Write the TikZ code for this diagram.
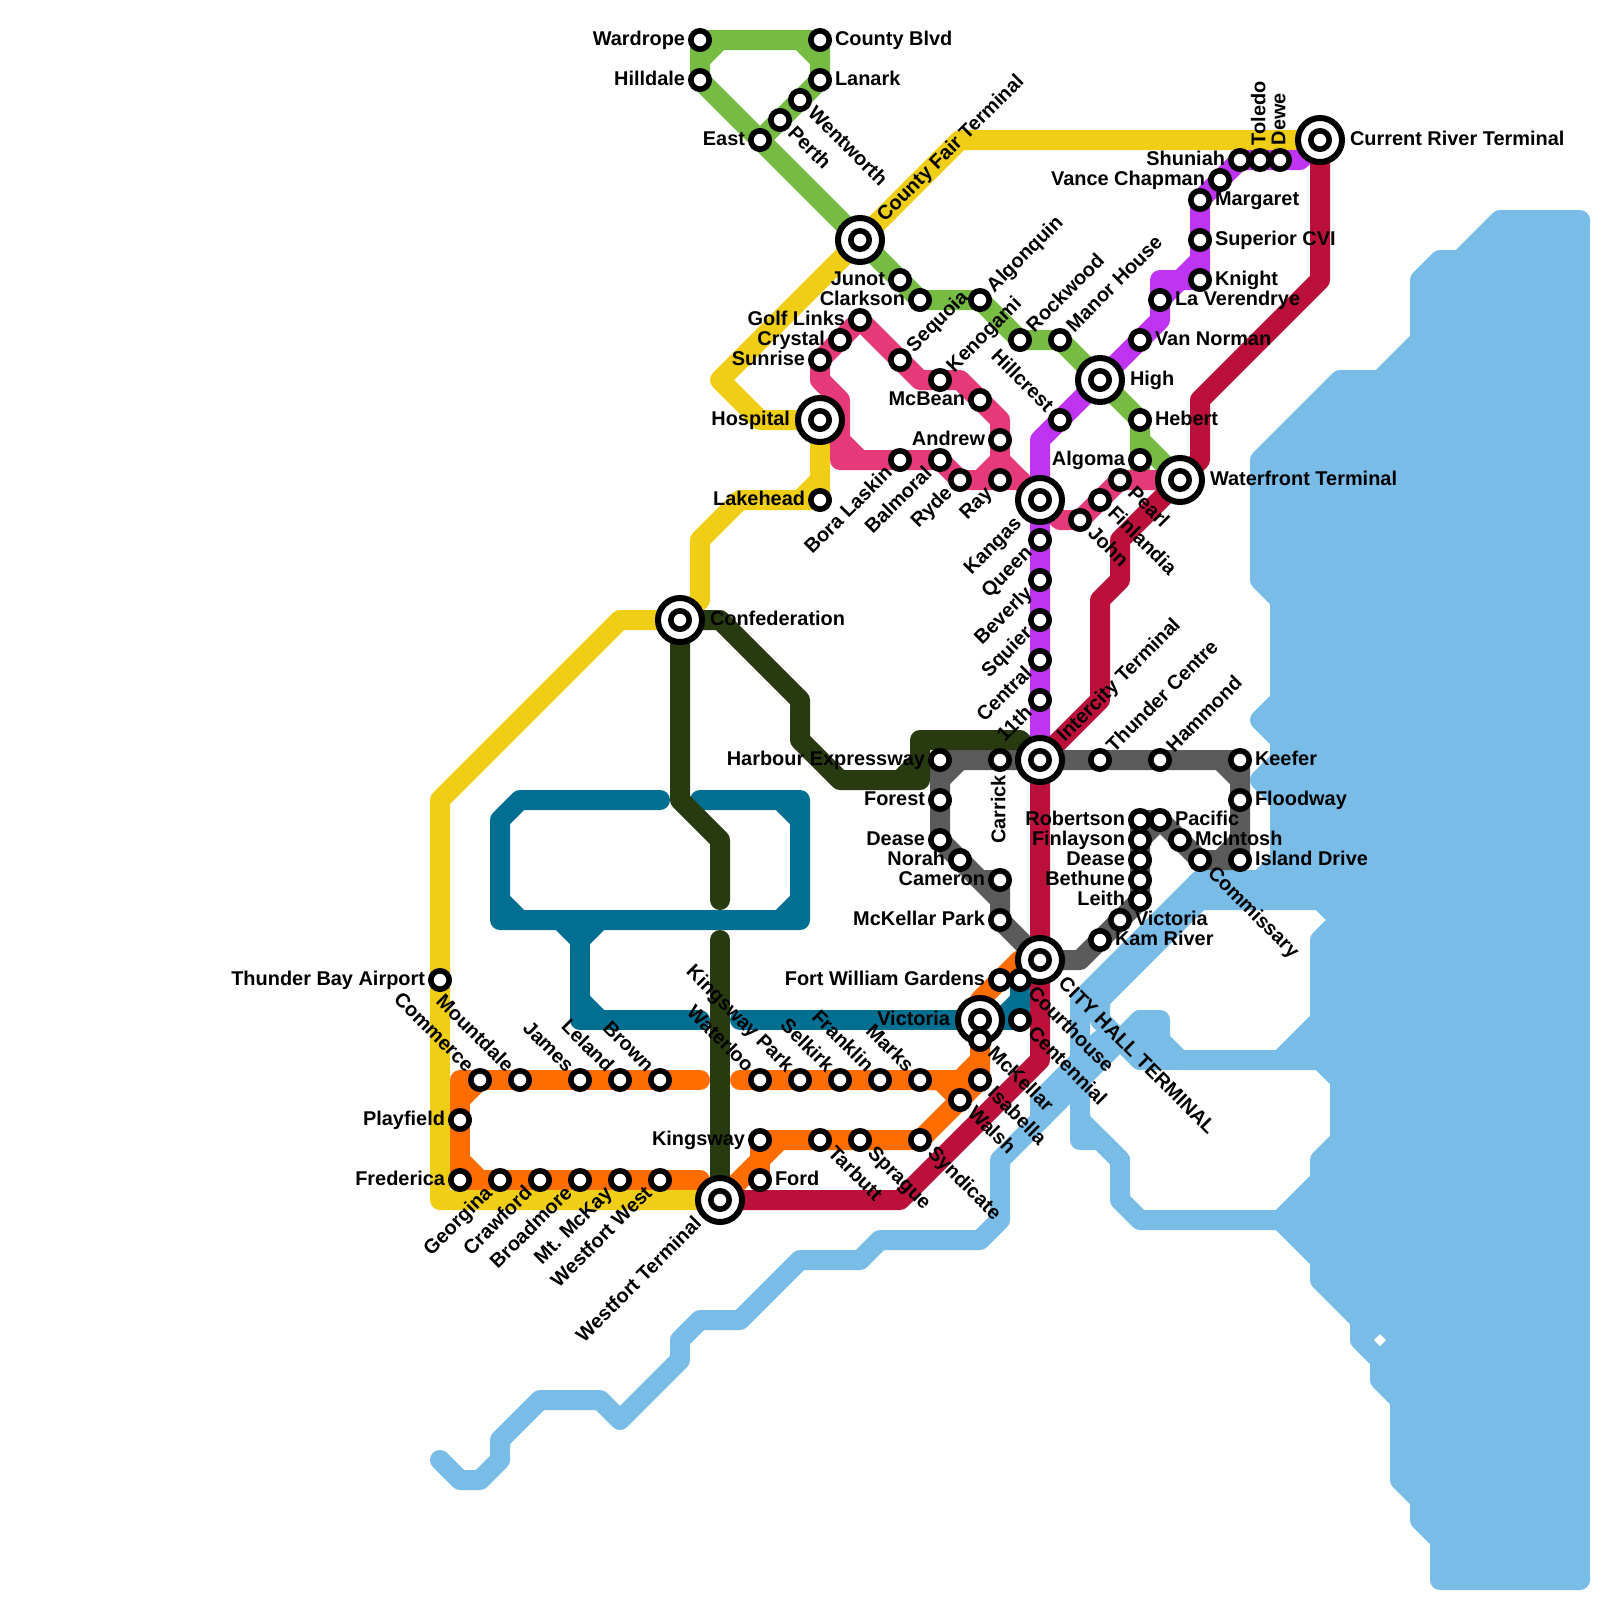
\documentclass[tikz,border=0pt]{standalone}
\usepackage{fontspec}
\setmainfont{Liberation Sans}
\definecolor{water}{RGB}{122,188,232}
\definecolor{yellowline}{RGB}{240,206,21}
\definecolor{greenline}{RGB}{118,187,66}
\definecolor{pinkline}{RGB}{229,58,122}
\definecolor{tealline}{RGB}{0,111,146}
\definecolor{orangeline}{RGB}{255,108,0}
\definecolor{purpleline}{RGB}{190,52,240}
\definecolor{redline}{RGB}{186,16,58}
\definecolor{grayline}{RGB}{91,91,91}
\definecolor{darkline}{RGB}{40,59,16}
\usetikzlibrary{backgrounds}

\begin{document}
\begin{tikzpicture}[
  x=0.5cm, y=-0.5cm,
  route/.style={line width=0.5cm, line join=round, line cap=round},
  sea/.style={route, draw=water, fill=water},
  stn/.style={circle, draw=black, fill=white, line width=0.14cm, minimum size=0.46cm, inner sep=0pt, outer sep=0pt},
  bigstn/.style={stn, line width=0.15cm, minimum size=1.1cm},
  lbl/.style={font=\bfseries\fontsize{14.17}{14.17}\selectfont, inner sep=0pt, outer sep=0pt, text height=10.3pt, text depth=2.8pt},
  lblr/.style={lbl, anchor=west, xshift=#1},
  lbll/.style={lbl, anchor=east, xshift=-#1},
  lblur/.style={lbl, rotate=45, anchor=west, xshift=#1},
  lbldl/.style={lbl, rotate=45, anchor=east, xshift=-#1},
  lbldr/.style={lbl, rotate=-45, anchor=west, xshift=#1},
  lblul/.style={lbl, rotate=-45, anchor=east, xshift=-#1},
  lblu/.style={lbl, rotate=90, anchor=west, xshift=#1},
  lbld/.style={lbl, rotate=90, anchor=east, xshift=-#1}
]
\useasboundingbox (0,0) rectangle (80,80);

% Terminals and interchanges
\foreach \nm/\x/\y/\dir/\txt in {
  countyfair/43/12/ur/County Fair Terminal,
  high/55/19/r/High,
  hospital/41/21/l/Hospital,
  kangas/52/25/dl/Kangas,
  waterfront/59/24/r/Waterfront Terminal,
  currentriver/66/7/r/Current River Terminal,
  confederation/34/31/r/Confederation,
  intercity/52/38/ur/Intercity Terminal,
  cityhall/52/48/dr/CITY HALL TERMINAL,
  victoria/49/51/l/Victoria,
  westfortterm/36/60/dl/Westfort Terminal
}{
  \node[bigstn] (\nm) at (\x,\y) {};
  \node[stn] (\nm-in) at (\nm.center) {};
  \node[lbl\dir=0.75cm] (\nm-lbl) at (\nm.center) {\txt};
}

% Stations
\foreach \nm/\x/\y/\dir/\txt in {
  wardrope/35/2/l/Wardrope, countyblvd/41/2/r/County Blvd,
  hilldale/35/4/l/Hilldale, lanark/41/4/r/Lanark,
  wentworth/40/5/dr/Wentworth, perth/39/6/dr/Perth, east/38/7/l/East,
  junot/45/14/l/Junot, clarkson/46/15/l/Clarkson, algonquin/49/15/ur/Algonquin,
  rockwood/51/17/ur/Rockwood, manorhouse/53/17/ur/Manor House,
  hebert/57/21/r/Hebert, algoma/57/23/l/Algoma,
  lakehead/41/25/l/Lakehead,
  golflinks/43/16/l/Golf Links, crystal/42/17/l/Crystal, sunrise/41/18/l/Sunrise,
  sequoia/45/18/ur/Sequoia, kenogami/47/19/ur/Kenogami, mcbean/49/20/l/McBean,
  andrew/50/22/l/Andrew, ray/50/24/dl/Ray, ryde/48/24/dl/Ryde,
  balmoral/47/23/dl/Balmoral, boralaskin/45/23/dl/Bora Laskin,
  john/54/26/dr/John, finlandia/55/25/dr/Finlandia, pearl/56/24/dr/Pearl,
  dewe/64/8/u/Dewe, toledo/63/8/u/Toledo, shuniah/62/8/l/Shuniah,
  vancechapman/61/9/l/Vance Chapman, margaret/60/10/r/Margaret,
  superior/60/12/r/Superior CVI, knight/60/14/r/Knight,
  laverendrye/58/15/r/La Verendrye, vannorman/57/17/r/Van Norman,
  hillcrest/53/21/ul/Hillcrest,
  queen/52/27/dl/Queen, beverly/52/29/dl/Beverly, squier/52/31/dl/Squier,
  central/52/33/dl/Central, eleventh/52/35/dl/11th,
  harbour/47/38/l/Harbour Expressway, carrick/50/38/d/Carrick,
  thundercentre/55/38/ur/Thunder Centre, hammond/58/38/ur/Hammond,
  keefer/62/38/r/Keefer, floodway/62/40/r/Floodway, islanddrive/62/43/r/Island Drive,
  commissary/60/43/dr/Commissary, mcintosh/59/42/r/McIntosh, pacific/58/41/r/Pacific,
  robertson/57/41/l/Robertson, finlayson/57/42/l/Finlayson, deaseb/57/43/l/Dease,
  bethune/57/44/l/Bethune, leith/57/45/l/Leith,
  victoriab/56/46/r/Victoria, kamriver/55/47/r/Kam River,
  forest/47/40/l/Forest, dease/47/42/l/Dease, norah/48/43/l/Norah,
  cameron/50/44/l/Cameron, mckellarpark/50/46/l/McKellar Park,
  gardens/50/49/l/Fort William Gardens,
  courthouse/51/49/dr/Courthouse, centennial/51/51/dr/Centennial,
  mckellar/49/52/dr/McKellar, isabella/49/54/dr/Isabella, walsh/48/55/dr/Walsh,
  syndicate/46/57/dr/Syndicate, sprague/43/57/dr/Sprague, tarbutt/41/57/dr/Tarbutt,
  kingsway/38/57/l/Kingsway, ford/38/59/r/Ford,
  marks/46/54/ul/Marks, franklin/44/54/ul/Franklin, selkirk/42/54/ul/Selkirk,
  kingswaypark/40/54/ul/Kingsway Park, waterloo/38/54/ul/Waterloo,
  brown/33/54/ul/Brown, leland/31/54/ul/Leland, james/29/54/ul/James,
  mountdale/26/54/ul/Mountdale, commerce/24/54/ul/Commerce,
  playfield/23/56/l/Playfield, frederica/23/59/l/Frederica,
  georgina/25/59/dl/Georgina, crawford/27/59/dl/Crawford, broadmore/29/59/dl/Broadmore,
  mtmckay/31/59/dl/Mt. McKay, westfortwest/33/59/dl/Westfort West,
  airport/22/49/l/Thunder Bay Airport
}{
  \node[stn] (\nm) at (\x,\y) {};
  \node[lbl\dir=0.375cm] (\nm-lbl) at (\nm.center) {\txt};
}

\begin{pgfonlayer}{background}
% Lake and rivers
\draw[sea] (75,11) -- (79,11) -- (79,79) -- (72,79) -- (72,77) -- (71,76) -- (71,75) -- (70,74) -- (70,70)
  -- (69,69) -- (69,68) -- (68,67) -- (68,66) -- (66,64) -- (66,63) -- (64,61) -- (66,59) -- (66,58) -- (67,57)
  -- (67,54) -- (66,53) -- (64,53) -- (66,51) -- (66,47) -- (67,46) -- (66,45) -- (60,45) -- (60,44) -- (63,44)
  -- (64,43) -- (64,40) -- (63,39) -- (64,38) -- (64,37) -- (63,36) -- (64,35) -- (64,30) -- (63,29) -- (63,23)
  -- (67,19) -- (69,19) -- (71,17) -- (71,14) -- (72,13) -- (73,13) -- cycle;
\fill[white] (69,66.7) -- (69.3,67) -- (69,67.3) -- (68.7,67) -- cycle;
\draw[route, water] (22,73) -- (23,74) -- (24,74) -- (25,73) -- (25,72) -- (27,70) -- (30,70) -- (31,71) -- (34,68)
  -- (34,67) -- (35,66) -- (37,66) -- (40,63) -- (43,63) -- (44,62) -- (49,62) -- (50,61) -- (50,58) -- (52,56)
  -- (52,55) -- (55,52) -- (56,52);
\draw[route, water] (60,44) -- (54,50) -- (54,57) -- (55,57) -- (56,58) -- (56,60) -- (57,61) -- (64,61);
\draw[route, water] (61,44) -- (55,50) -- (55,51) -- (56,52) -- (57,51) -- (58,51) -- (58,52) -- (59,53) -- (64,53);
\draw[route, water] (57,51) -- (57,53) -- (59,53);
\draw[route, water] (57,52) -- (58,52);
\draw[route, water] (57,53) -- (56,52) -- (52,56);
\draw[route, water] (53,54) -- (54,55);
\draw[route, water] (54,56) -- (56,58);

% Yellow
\draw[route, yellowline] (currentriver.center) -- (48,7) -- (countyfair.center) -- (36,19) -- (38,21) -- (hospital.center)
  -- (lakehead.center) -- (37,25) -- (35,27) -- (35,30) -- (confederation.center) -- (31,31) -- (22,40)
  -- (airport.center) -- (22,60) -- (westfortterm.center);
\draw[route, yellowline] (41,24) -- (40,25);

% Green
\draw[route, greenline] (east.center) -- (perth.center) -- (wentworth.center) -- (lanark.center) -- (countyblvd.center)
  -- (wardrope.center) -- (hilldale.center) -- (countyfair.center) -- (junot.center) -- (clarkson.center)
  -- (algonquin.center) -- (rockwood.center) -- (manorhouse.center) -- (high.center) -- (hebert.center)
  -- (algoma.center) -- (57,24) -- (waterfront.center);
\draw[route, greenline] (35,3) -- (36,2);
\draw[route, greenline] (40,2) -- (41,3);
\draw[route, greenline] (57,22) -- (waterfront.center);

% Pink
\draw[route, pinkline] (sunrise.center) -- (crystal.center) -- (golflinks.center) -- (sequoia.center) -- (46,19)
  -- (kenogami.center) -- (48,19) -- (mcbean.center) -- (50,21) -- (andrew.center) -- (ray.center) -- (ryde.center)
  -- (balmoral.center) -- (boralaskin.center) -- (42,23) -- (42,20) -- (41,19) -- (sunrise.center);
\draw[route, pinkline] (42,22) -- (43,23);
\draw[route, pinkline] (49,24) -- (50,23) -- (kangas.center);
\draw[route, pinkline] (ray.center) -- (51,24) -- (kangas.center) -- (53,26) -- (john.center) -- (finlandia.center)
  -- (pearl.center) -- (waterfront.center);

% Teal
\draw[route, tealline] (33,40) -- (26,40) -- (25,41) -- (25,46) -- (40,46) -- (40,40) -- (35,40);
\draw[route, tealline] (25,45) -- (26,46);
\draw[route, tealline] (39,46) -- (40,45);
\draw[route, tealline] (39,40) -- (40,41);
\draw[route, tealline] (28,46) -- (29,47) -- (30,46);
\draw[route, tealline] (29,47) -- (29,51) -- (35,51);
\draw[route, tealline] (29,50) -- (30,51);
\draw[route, tealline] (37,51) -- (victoria.center) -- (centennial.center) -- (courthouse.center);
\draw[route, tealline] (50,51) -- (51,50);

% Orange
\draw[route, orangeline] (35,54) -- (brown.center) -- (leland.center) -- (james.center) -- (mountdale.center)
  -- (commerce.center) -- (23,54) -- (playfield.center) -- (frederica.center) -- (georgina.center) -- (crawford.center)
  -- (broadmore.center) -- (mtmckay.center) -- (westfortwest.center) -- (35,59);
\draw[route, orangeline] (commerce.center) -- (23,55);
\draw[route, orangeline] (23,58) -- (24,59);
\draw[route, orangeline] (37,54) -- (waterloo.center) -- (kingswaypark.center) -- (selkirk.center) -- (franklin.center)
  -- (marks.center) -- (48,54) -- (49,53) -- (49,50) -- (gardens.center) -- (51,48) -- (cityhall.center);
\draw[route, orangeline] (marks.center) -- (47,54) -- (walsh.center);
\draw[route, orangeline] (victoria.center) -- (mckellar.center) -- (isabella.center) -- (walsh.center)
  -- (syndicate.center) -- (sprague.center) -- (tarbutt.center) -- (39,57) -- (westfortterm.center);
\draw[route, orangeline] (39,57) -- (kingsway.center) -- (ford.center);

% Purple
\draw[route, purpleline] (currentriver.center) -- (65,8) -- (dewe.center) -- (toledo.center) -- (shuniah.center)
  -- (vancechapman.center) -- (margaret.center) -- (superior.center) -- (knight.center) -- (58,14)
  -- (laverendrye.center) -- (58,16) -- (vannorman.center) -- (high.center) -- (hillcrest.center) -- (52,22)
  -- (kangas.center) -- (queen.center) -- (beverly.center) -- (squier.center) -- (central.center)
  -- (eleventh.center) -- (intercity.center);
\draw[route, purpleline] (60,13) -- (59,14) -- (58,15);

% Red
\draw[route, redline] (westfortterm.center) -- (45,60) -- (52,53) -- (cityhall.center) -- (intercity.center) -- (55,35)
  -- (55,30) -- (56,29) -- (56,27) -- (waterfront.center) -- (60,23) -- (60,20) -- (66,14) -- (currentriver.center);

% Gray
\draw[route, grayline] (harbour.center) -- (carrick.center) -- (intercity.center) -- (thundercentre.center)
  -- (hammond.center) -- (keefer.center) -- (floodway.center) -- (islanddrive.center) -- (commissary.center)
  -- (mcintosh.center) -- (pacific.center) -- (robertson.center) -- (finlayson.center) -- (deaseb.center)
  -- (bethune.center) -- (leith.center) -- (victoriab.center) -- (kamriver.center) -- (54,48) -- (cityhall.center)
  -- (mckellarpark.center) -- (cameron.center) -- (49,44) -- (norah.center) -- (dease.center) -- (forest.center)
  -- (harbour.center);
\draw[route, grayline] (47,39) -- (48,38);
\draw[route, grayline] (61,38) -- (62,39);
\draw[route, grayline] (61,43) -- (62,42);
\draw[route, grayline] (finlayson.center) -- (pacific.center);
\draw[route, grayline] (49,44) -- (50,45);

% Dark green
\draw[route, darkline] (confederation.center) -- (36,31) -- (40,35) -- (40,37) -- (42,39) -- (46,39) -- (46,37)
  -- (51,37) -- (intercity.center);
\draw[route, darkline] (46,38) -- (45,39);
\draw[route, darkline] (confederation.center) -- (34,40) -- (36,42) -- (36,45);
\draw[route, darkline] (36,47) -- (westfortterm.center);
\end{pgfonlayer}
\end{tikzpicture}
\end{document}
